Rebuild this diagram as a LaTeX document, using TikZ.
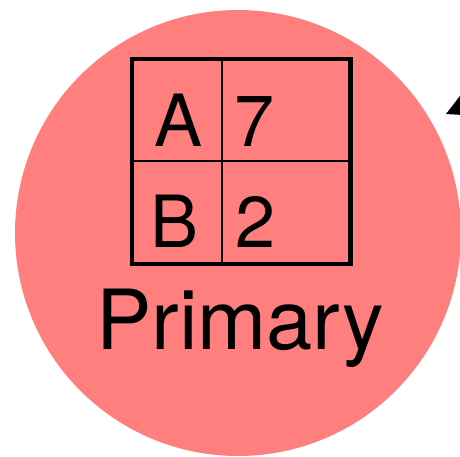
\documentclass[tikz,border=0pt]{standalone}
\usepackage{fontspec}
\setmainfont{TeX Gyre Heros}
\definecolor{salmon}{RGB}{255,127,127}
\begin{document}
\begin{tikzpicture}[x=1pt,y=-1pt,
  cell/.style={inner sep=0pt,anchor=base west,font=\fontsize{72}{72}\selectfont},
  label/.style={inner sep=0pt,anchor=base west,font=\fontsize{83}{83}\selectfont},
  outer/.style={line width=4.2pt},
  inner/.style={line width=2.4pt}]
\useasboundingbox (0,0) rectangle (460,456);
\clip (0,0) rectangle (460,456);
\fill[salmon] (238,233) circle (223);
% table
\draw[inner] (222,59) -- (222,265);
\draw[inner] (131,161) -- (351,161);
\draw[outer] (132,59) rectangle (350.5,264);
\node[cell] (a) at (154,146) {A};
\node[cell] (seven) at (234,146) {7};
\node[cell] (b) at (150,247) {B};
\node[cell] (two) at (235,247) {2};
\node[label] (primary) at (96,349) {Primary};
% arrow head (cut off)
\fill (446,114) -- (463,92) -- (463,115) -- cycle;
\end{tikzpicture}
\end{document}
